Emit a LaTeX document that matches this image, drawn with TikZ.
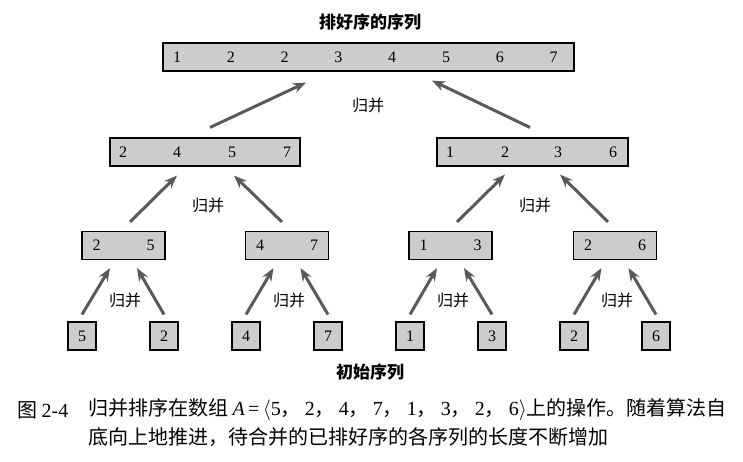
\documentclass[tikz,border=0pt]{standalone}
\usepackage{fontspec}
\setmainfont{Liberation Serif}
\newfontfamily\cjk{Noto Sans CJK SC}
\usetikzlibrary{arrows.meta}
\begin{document}
\begin{tikzpicture}[x=1pt,y=-1pt,
  cellbox/.style={draw=black,line width=1.1pt,fill=black!20,inner sep=0pt,minimum height=28pt,font=\fontsize{16}{16}\selectfont},
  num/.style={font=\fontsize{16}{16}\selectfont,inner sep=0pt},
  merge/.style={font=\cjk\fontsize{16}{16}\selectfont,inner sep=0pt},
  heading/.style={font=\cjk\bfseries\fontsize{17}{17}\selectfont,inner sep=0pt},
  arr/.style={draw=black!65,line width=3pt,-{Stealth[length=13pt,width=10pt]}},
  capt/.style={font=\cjk\fontsize{20}{20}\selectfont,inner sep=0pt,anchor=west}
]
\useasboundingbox (0,0) rectangle (743,461);
% top
\node[heading] (title) at (370,22) {排好序的序列};
\node[cellbox,minimum width=411pt] (top) at (368.5,57) {};
\foreach \v [count=\i] in {1,2,2,3,4,5,6,7}
  \node[num] (t\i) at ({177+53.8*(\i-1)},57) {\v};
% level 2
\node[cellbox,minimum width=190pt] (L) at (205,152) {};
\foreach \v/\x [count=\i] in {2/123,4/177,5/232,7/287}
  \node[num] (la\i) at (\x,152) {\v};
\node[cellbox,minimum width=191pt] (R) at (532.5,152) {};
\foreach \v/\x [count=\i] in {1/450,2/505,3/558,6/613}
  \node[num] (ra\i) at (\x,152) {\v};
% level 3
\foreach \c/\a/\b [count=\i] in {123.5/2/5,287/4/7,450.5/1/3,615/2/6}{
  \node[cellbox,minimum width=83pt] (m\i) at (\c,245.5) {};
  \node[num] (ma\i) at (\c-27,245.5) {\a};
  \node[num] (mb\i) at (\c+27,245.5) {\b};
}
% leaves
\foreach \v [count=\i] in {5,2,4,7,1,3,2,6}
  \node[cellbox,minimum width=28pt] (l\i) at ({82+82*(\i-1)},336) {\v};
% arrows leaves -> level 3
\foreach \i/\p/\q in {1/1/2,2/3/4,3/5/6,4/7/8}{
  \draw[arr] ([yshift=7pt]l\p.north) -- ([xshift=-13.5pt,yshift=-8pt]m\i.south);
  \draw[arr] ([yshift=7pt]l\q.north) -- ([xshift=13.5pt,yshift=-8pt]m\i.south);
}
\node[merge] (g1) at (125,300) {归并};
\node[merge] (g2) at (289,300) {归并};
\node[merge] (g3) at (453,300) {归并};
\node[merge] (g4) at (617,300) {归并};
% level 3 -> level 2
\draw[arr] ([xshift=6.5pt,yshift=9pt]m1.north) -- ([xshift=-28pt,yshift=-9pt]L.south);
\draw[arr] ([xshift=-5pt,yshift=9pt]m2.north) -- ([xshift=29pt,yshift=-9pt]L.south);
\draw[arr] ([xshift=6.5pt,yshift=9pt]m3.north) -- ([xshift=-27.5pt,yshift=-8pt]R.south);
\draw[arr] ([xshift=-7pt,yshift=9pt]m4.north) -- ([xshift=27.5pt,yshift=-8pt]R.south);
\node[merge] (g5) at (208,205) {归并};
\node[merge] (g6) at (535,205) {归并};
% level 2 -> top
\draw[arr] ([xshift=5pt,yshift=10pt]L.north) -- ([xshift=-62.5pt,yshift=-11pt]top.south);
\draw[arr] ([xshift=-2.5pt,yshift=10pt]R.north) -- ([xshift=63.5pt,yshift=-9pt]top.south);
\node[merge] (g7) at (368,105) {归并};
\node[heading] (init) at (370,372) {初始序列};
% caption
\node[capt] (c0) at (17,410) {图 {\fontspec{Liberation Serif}2-4}};
\node[capt] (c1) at (88,410) {归并排序在数组 {\fontspec{Liberation Serif}\itshape A}{\fontspec{Liberation Serif}\,=\,}$\langle${\fontspec{Liberation Serif}5}，\hspace{4pt}{\fontspec{Liberation Serif}2}，\hspace{4pt}{\fontspec{Liberation Serif}4}，\hspace{4pt}{\fontspec{Liberation Serif}7}，\hspace{4pt}{\fontspec{Liberation Serif}1}，\hspace{4pt}{\fontspec{Liberation Serif}3}，\hspace{4pt}{\fontspec{Liberation Serif}2}，\hspace{4pt}{\fontspec{Liberation Serif}6}$\rangle$上的操作。随着算法自};
\node[capt] (c2) at (88,437) {底向上地推进，待合并的已排好序的各序列的长度不断增加};
\end{tikzpicture}
\end{document}
